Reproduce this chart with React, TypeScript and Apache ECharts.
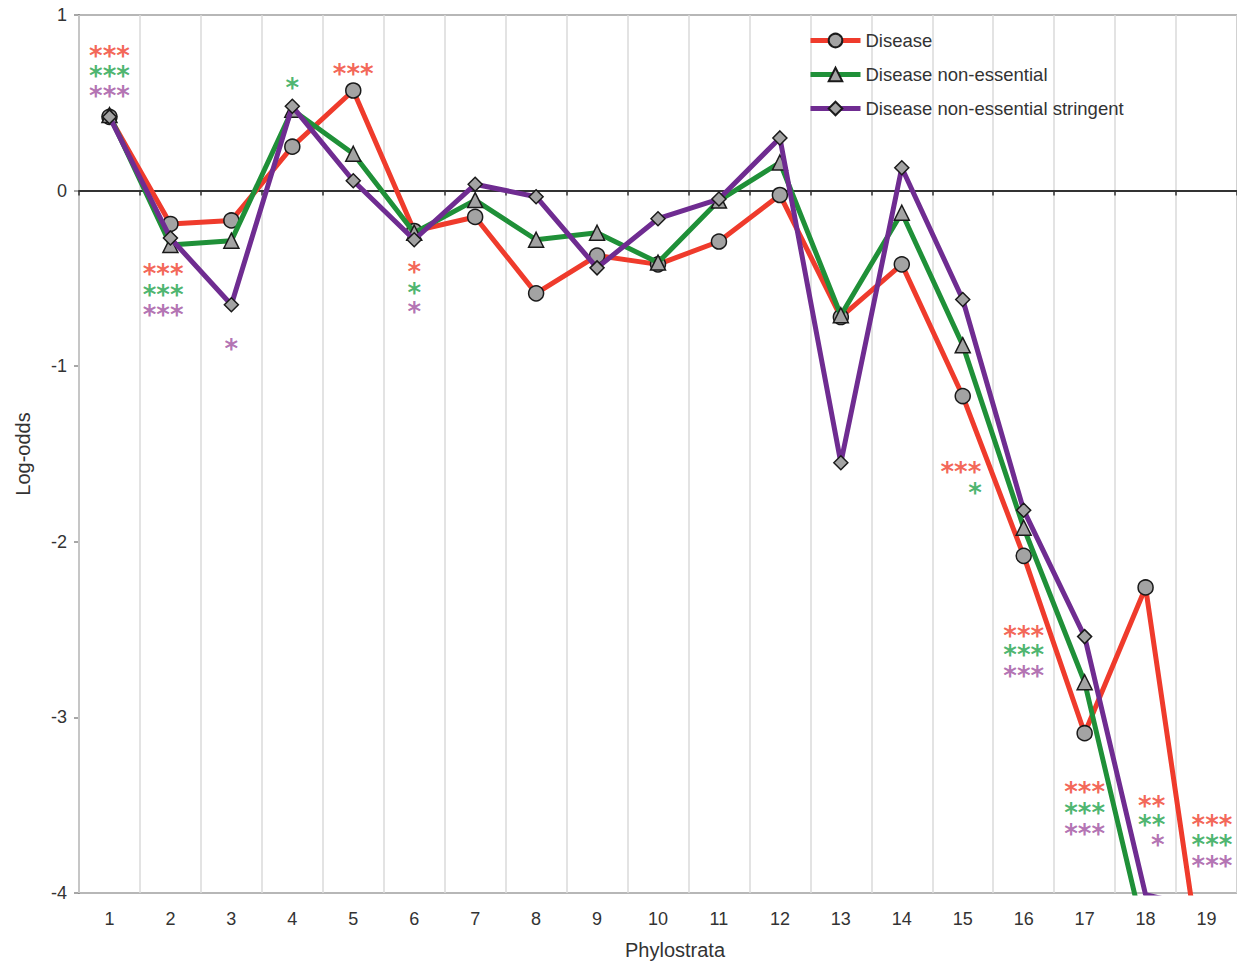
import React, { useEffect, useRef } from "react";
import * as echarts from "echarts";

const phylostrata = ["1","2","3","4","5","6","7","8","9","10","11","12","13","14","15","16","17","18","19"];
const yTicks = [1, 0, -1, -2, -3, -4];

const disease = [0.42, -0.19, -0.17, 0.25, 0.57, -0.23, -0.15, -0.585, -0.37, -0.42, -0.29, -0.025, -0.72, -0.42, -1.17, -2.08, -3.09, -2.26, -4.63];
const diseaseNonEssential = [0.43, -0.31, -0.285, 0.46, 0.21, -0.24, -0.054, -0.28, -0.24, -0.41, -0.057, 0.16, -0.71, -0.126, -0.88, -1.92, -2.8, -4.27, -4.5];
const diseaseStringent = [0.42, -0.27, -0.65, 0.48, 0.056, -0.28, 0.036, -0.035, -0.44, -0.16, -0.048, 0.3, -1.55, 0.13, -0.62, -1.82, -2.54, -4.01, -4.09];

// significance marks: [phylostratum position, log-odds position, text]
const sigDisease: [number, number, string][] = [
  [1, 0.8, "***"], [1.88, -0.44, "***"], [5, 0.7, "***"], [6, -0.43, "*"],
  [14.97, -1.57, "***"], [16, -2.5, "***"], [17, -3.39, "***"], [18.1, -3.47, "**"], [19.09, -3.58, "***"],
];
const sigNonEssential: [number, number, string][] = [
  [1, 0.687, "***"], [1.88, -0.56, "***"], [4, 0.62, "*"], [6, -0.55, "*"],
  [15.2, -1.69, "*"], [16, -2.61, "***"], [17, -3.51, "***"], [18.1, -3.58, "**"], [19.09, -3.69, "***"],
];
const sigStringent: [number, number, string][] = [
  [1, 0.573, "***"], [1.88, -0.675, "***"], [3, -0.87, "*"], [6, -0.66, "*"],
  [16, -2.73, "***"], [17, -3.63, "***"], [18.2, -3.69, "*"], [19.09, -3.81, "***"],
];

const names = ["Disease", "Disease non-essential", "Disease non-essential stringent"];
const lineColors = ["#ef3b2c", "#1f9038", "#6f2c91"];
const starColors = ["#f03e2c", "#1ea24a", "#a04fa0"];
const symbols = ["circle", "triangle", "diamond"];
const symbolSizes = [15, 15, 14];

export default function App() {
  const ref = useRef<HTMLDivElement>(null);
  useEffect(() => {
    if (!ref.current) return;
    const chart = echarts.init(ref.current, null, { renderer: "svg" });
    const lineData = [disease, diseaseNonEssential, diseaseStringent];
    const sigData = [sigDisease, sigNonEssential, sigStringent];
    const font = "'Liberation Sans', Arial, sans-serif";

    const lineSeries = lineData.map((d, i) => ({
      name: names[i],
      type: "line",
      xAxisIndex: 0,
      yAxisIndex: 0,
      data: d,
      color: lineColors[i],
      symbol: symbols[i],
      symbolSize: symbolSizes[i],
      showAllSymbol: true,
      lineStyle: { color: lineColors[i], width: 5 },
      itemStyle: { color: "#a3a3a3", borderColor: "#1a1a1a", borderWidth: 1.5 },
      clip: true,
      z: 3 + i,
    }));

    const sigSeries = sigData.map((d, i) => ({
      name: "sig" + i,
      type: "scatter",
      xAxisIndex: 2,
      yAxisIndex: 0,
      data: d,
      symbolSize: 1,
      itemStyle: { color: "rgba(0,0,0,0)" },
      silent: true,
      label: {
        show: true,
        position: "inside",
        formatter: (p: any) => p.data[2],
        color: starColors[i],
        fontSize: 26,
        fontWeight: "bold",
        lineHeight: 14,
        fontFamily: "'DejaVu Sans', sans-serif",
        offset: [0, 6],
      },
      z: 10,
    }));

    chart.setOption({
      animation: false,
      backgroundColor: "#ffffff",
      textStyle: { fontFamily: font },
      grid: {
        left: 79,
        right: 0,
        top: 15,
        bottom: 68,
        show: true,
        borderColor: "#a0a0a0",
        borderWidth: 1.5,
        containLabel: false,
        outerBoundsMode: "none",
      },
      legend: {
        data: names,
        orient: "vertical",
        left: 803,
        top: 26,
        itemWidth: 50,
        itemHeight: 17,
        itemGap: 15,
        lineStyle: { width: 5 },
        textStyle: { fontSize: 18.5, color: "#333", fontFamily: font, lineHeight: 19 },
      },
      xAxis: [
        {
          type: "category",
          data: phylostrata,
          boundaryGap: true,
          axisLine: { show: true, onZero: true, lineStyle: { color: "#333", width: 2 } },
          axisTick: { show: true, interval: 0, length: 5, lineStyle: { color: "#333", width: 1.5 } },
          axisLabel: { show: false },
          splitLine: { show: true, interval: 0, lineStyle: { color: "#dadada", width: 1.5 } },
          z: 2,
        },
        {
          type: "category",
          data: phylostrata,
          position: "bottom",
          boundaryGap: true,
          axisLine: { show: false, onZero: false },
          axisTick: { show: false },
          splitLine: { show: false },
          axisLabel: { show: true, interval: 0, fontSize: 18, color: "#333", margin: 17, fontFamily: font },
          name: "Phylostrata",
          nameLocation: "middle",
          nameGap: 47,
          nameTextStyle: { fontSize: 20, color: "#333", fontFamily: font, padding: [0, 0, 0, 34] },
        },
        {
          type: "value",
          min: 0.5,
          max: 19.5,
          show: false,
          position: "top",
        },
      ],
      yAxis: {
        type: "value",
        min: -4,
        max: 1,
        interval: 1,
        axisLine: { show: true, onZero: false, lineStyle: { color: "#8a8a8a", width: 2 } },
        axisTick: { show: true, length: 5, lineStyle: { color: "#8a8a8a", width: 1.5 } },
        splitLine: { show: false },
        axisLabel: { fontSize: 18, color: "#333", margin: 12, fontFamily: font, formatter: (v: number) => (yTicks.includes(v) ? String(v) : "") },
        name: "Log-odds",
        nameLocation: "middle",
        nameRotate: 90,
        nameGap: 46,
        nameTextStyle: { fontSize: 20, color: "#333", fontFamily: font },
      },
      series: [...lineSeries, ...sigSeries],
    });
    return () => chart.dispose();
  }, []);
  return <div ref={ref} style={{ position: "absolute", left: 0, top: 0, width: 1237, height: 961 }} />;
}
